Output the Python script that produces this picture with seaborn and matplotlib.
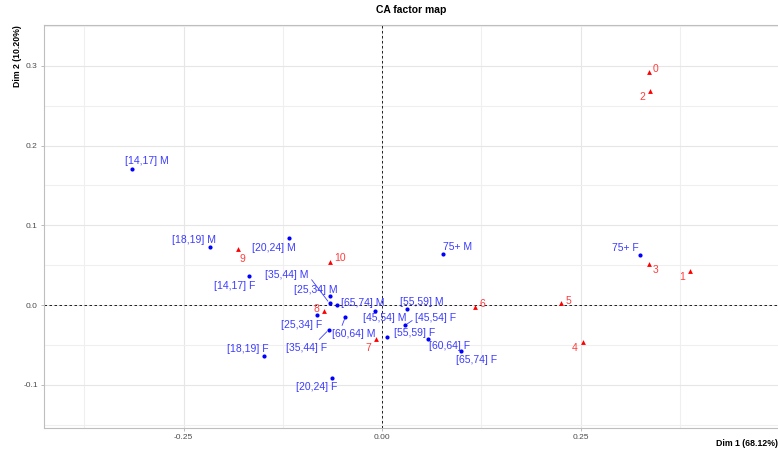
import matplotlib
matplotlib.use("Agg")
import matplotlib.pyplot as plt
from matplotlib.ticker import FixedLocator, FuncFormatter
import seaborn as sns
import pandas as pd

# Row categories (red triangles)
row_labels = ["0", "1", "2", "3", "4", "5", "6", "7", "8", "9", "10"]
row_dim1 = [0.336, 0.388, 0.338, 0.336, 0.2535, 0.2254, 0.117, -0.007, -0.073, -0.181, -0.066]
row_dim2 = [0.292, 0.043, 0.268, 0.051, -0.046, 0.002, -0.003, -0.043, -0.0075, 0.070, 0.054]

# Column categories: age band x sex (blue points)
col_labels = ["[14,17] M", "[14,17] F", "[18,19] M", "[18,19] F", "[20,24] M", "[20,24] F",
              "[25,34] M", "[25,34] F", "[35,44] M", "[35,44] F", "[45,54] M", "[45,54] F",
              "[55,59] M", "[55,59] F", "[60,64] M", "[60,64] F", "[65,74] M", "[65,74] F",
              "75+ M", "75+ F"]
col_dim1 = [-0.315, -0.167, -0.216, -0.149, -0.117, -0.063,
            -0.066, -0.082, -0.066, -0.067, -0.009, 0.029,
            0.031, 0.0067, -0.046, 0.0575, -0.057, 0.0999,
            0.0768, 0.325]
col_dim2 = [0.170, 0.036, 0.073, -0.064, 0.084, -0.092,
            0.011, -0.013, 0.002, -0.031, -0.0075, -0.0255,
            -0.005, -0.0405, -0.0147, -0.0426, 0.0, -0.0577,
            0.064, 0.063]

dim1_title = "Dim 1 (68.12%)"
dim2_title = "Dim 2 (10.20%)"
chart_title = "CA factor map"

# Label placement (offsets in pixels from the point: right, down)
label_offsets = {
    "0": (7, -3), "1": (-8, 6), "2": (-8, 6), "3": (7, 6), "4": (-9, 6),
    "5": (7, -2), "6": (7, -3), "7": (-8, 9), "8": (-8, -2), "9": (4, 10), "10": (10, -4),
    "[14,17] M": (15, -8), "[14,17] F": (-15, 10), "[18,19] M": (-16, -7),
    "[18,19] F": (-16, -7), "[20,24] M": (-15, 10), "[20,24] F": (-15, 9),
    "[25,34] M": (-14, -6), "[25,34] F": (-15, 10), "[35,44] M": (-43, -28),
    "[35,44] F": (-22, 18), "[45,54] M": (10, 7), "[45,54] F": (31, -7),
    "[55,59] M": (15, -7), "[55,59] F": (27, -4), "[60,64] M": (8, 17),
    "[60,64] F": (22, 7), "[65,74] M": (26, -2), "[65,74] F": (15, 9),
    "75+ M": (15, -7), "75+ F": (-15, -7),
}
# Labels pushed away from their point get a connector; value = anchor on the label box
segment_anchor = {"[35,44] M": (1.0, 0.5), "[35,44] F": (0.7, 0.9),
                  "[45,54] F": (0.0, 0.5), "[60,64] M": (0.2, 0.9)}

rows = pd.DataFrame({"label": row_labels, "Dim1": row_dim1, "Dim2": row_dim2})
cols = pd.DataFrame({"label": col_labels, "Dim1": col_dim1, "Dim2": col_dim2})

sns.set_theme(style="white")
plt.rcParams["font.family"] = ["Liberation Sans", "DejaVu Sans"]

W, H = 778, 455
fig = plt.figure(figsize=(W / 100, H / 100), dpi=100)
left, right, top, bottom = 44, 778, 25, 428
ax = fig.add_axes([left / W, 1 - bottom / H, (right - left) / W, (bottom - top) / H])

x0px, y0px, sx, sy = 382, 305, 794.0, 797.5
ax.set_xlim((left - x0px) / sx, (right - x0px) / sx)
ax.set_ylim((y0px - bottom) / sy, (y0px - top) / sy)

# Grid
ax.xaxis.set_major_locator(FixedLocator([-0.25, 0.0, 0.25]))
ax.xaxis.set_minor_locator(FixedLocator([-0.375, -0.125, 0.125, 0.375]))
ax.yaxis.set_major_locator(FixedLocator([-0.1, 0.0, 0.1, 0.2, 0.3]))
ax.yaxis.set_minor_locator(FixedLocator([-0.15, -0.05, 0.05, 0.15, 0.25, 0.35]))
ax.xaxis.set_major_formatter(FuncFormatter(lambda v, p: f"{v:.2f}"))
ax.yaxis.set_major_formatter(FuncFormatter(lambda v, p: f"{v:.1f}"))
ax.grid(True, which="major", color="#E6E6E6", lw=0.8)
ax.grid(True, which="minor", color="#EFEFEF", lw=0.8)
ax.set_axisbelow(True)
ax.tick_params(axis="both", which="major", length=2.5, width=0.6, color="#B0B0B0",
               labelsize=6, labelcolor="#4D4D4D", pad=2, left=True, bottom=True)
ax.tick_params(axis="both", which="minor", length=0)
for side in ["left", "top", "bottom"]:
    ax.spines[side].set_color("#BEBEBE")
    ax.spines[side].set_linewidth(0.8)
ax.spines["right"].set_visible(False)

ax.axhline(0, color="black", lw=0.6, ls=(0, (3, 3)), zorder=1)
ax.axvline(0, color="black", lw=0.6, ls=(0, (3, 3)), zorder=1)

sns.scatterplot(data=cols, x="Dim1", y="Dim2", ax=ax, color="blue", marker="o",
                s=9, linewidth=0, zorder=3, legend=False)
sns.scatterplot(data=rows, x="Dim1", y="Dim2", ax=ax, color="red", marker="^",
                s=12, linewidth=0, zorder=3, legend=False)


def put_labels(df, colour):
    for lab, x, y in zip(df["label"], df["Dim1"], df["Dim2"]):
        dx, dy = label_offsets[lab]
        kw = {}
        if lab in segment_anchor:
            kw["arrowprops"] = dict(arrowstyle="-", color=colour, lw=0.6,
                                    shrinkA=0, shrinkB=2,
                                    relpos=segment_anchor[lab])
        ax.annotate(lab, (x, y), xytext=(dx, -dy), textcoords="offset pixels",
                    ha="center", va="center", fontsize=7.5, color=colour, zorder=4, **kw)


put_labels(cols, "#3C3CFF")
put_labels(rows, "#FF3C3C")

ax.set_xlabel("")
ax.set_ylabel("")
fig.text(right / W, 1 - 443 / H, dim1_title, ha="right", va="center",
         fontsize=6.3, fontweight="bold", color="black")
fig.text(18 / W, 1 - top / H, dim2_title, ha="center", va="top", rotation=90,
         fontsize=6.3, fontweight="bold", color="black")
fig.text((left + right) / 2 / W, 1 - 10 / H, chart_title, ha="center", va="center",
         fontsize=7.5, fontweight="bold", color="black")

fig.savefig("out.png", dpi=100)
